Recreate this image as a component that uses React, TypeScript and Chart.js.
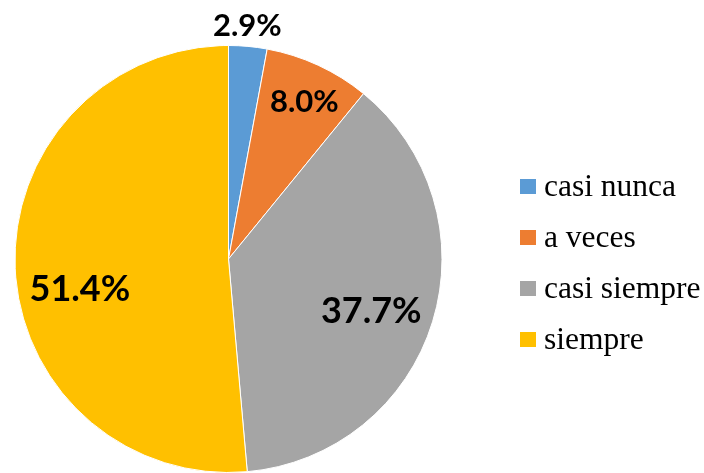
import React, { useEffect, useRef } from "react";
import { Chart, registerables } from "chart.js";

Chart.register(...registerables);

const categories = ["casi nunca", "a veces", "casi siempre", "siempre"];
const percentages = [2.9, 8.0, 37.7, 51.4];
const colors = ["#5B9BD5", "#ED7D31", "#A5A5A5", "#FFC000"];

// label placement styles (radius factor, angle offset in degrees, font size)
const labelRadius = [1.097, 0.815, 0.713, 0.711];
const labelAngleOffset = [-0.6, 1.0, 3.2, -9.2];
const labelFontSize = [31, 31, 36, 36];

const labelPlugin = {
  id: "pieLabels",
  afterDatasetsDraw(chart: any) {
    const ctx = chart.ctx;
    const meta = chart.getDatasetMeta(0);
    const data = chart.data.datasets[0].data as number[];
    ctx.save();
    ctx.fillStyle = "#000";
    ctx.textAlign = "center";
    ctx.textBaseline = "middle";
    meta.data.forEach((arc: any, i: number) => {
      const p = arc.getProps(["x", "y", "startAngle", "endAngle", "outerRadius"], true);
      const mid = (p.startAngle + p.endAngle) / 2 + (labelAngleOffset[i] * Math.PI) / 180;
      const r = p.outerRadius * labelRadius[i];
      const x = p.x + Math.cos(mid) * r;
      const y = p.y + Math.sin(mid) * r;
      ctx.font = `bold ${labelFontSize[i]}px Lato, "Open Sans", sans-serif`;
      ctx.fillText(data[i].toFixed(1) + "%", x, y);
    });
    ctx.restore();
  },
};

const legendPlugin = {
  id: "customLegend",
  afterDraw(chart: any) {
    const ctx = chart.ctx;
    ctx.save();
    ctx.textAlign = "left";
    ctx.textBaseline = "alphabetic";
    ctx.font = "normal 31.5px 'Liberation Serif', 'Times New Roman', serif";
    const x0 = 520;
    const y0 = 196;
    const step = 51;
    categories.forEach((c, i) => {
      const baseline = y0 + i * step;
      ctx.fillStyle = colors[i];
      ctx.fillRect(x0, baseline - 17, 16, 15);
      ctx.fillStyle = "#000";
      ctx.fillText(c, x0 + 24, baseline);
    });
    ctx.restore();
  },
};

export default function App() {
  const ref = useRef<HTMLCanvasElement | null>(null);
  useEffect(() => {
    if (!ref.current) return;
    const chart = new Chart(ref.current, {
      type: "pie",
      data: {
        labels: categories,
        datasets: [
          {
            data: percentages,
            backgroundColor: colors,
            borderColor: "#ffffff",
            borderWidth: 1,
          },
        ],
      },
      options: {
        animation: false,
        responsive: false,
        maintainAspectRatio: false,
        layout: { padding: { left: 13, right: 260, top: 45, bottom: 0 } },
        plugins: {
          legend: { display: false },
          tooltip: { enabled: false },
        },
      },
      plugins: [labelPlugin, legendPlugin],
    });
    return () => chart.destroy();
  }, []);
  return (
    <div style={{ position: "absolute", left: 0, top: 0, width: 704, height: 473, background: "#fff" }}>
      <canvas ref={ref} width={704} height={473} style={{ width: 704, height: 473 }} />
    </div>
  );
}
